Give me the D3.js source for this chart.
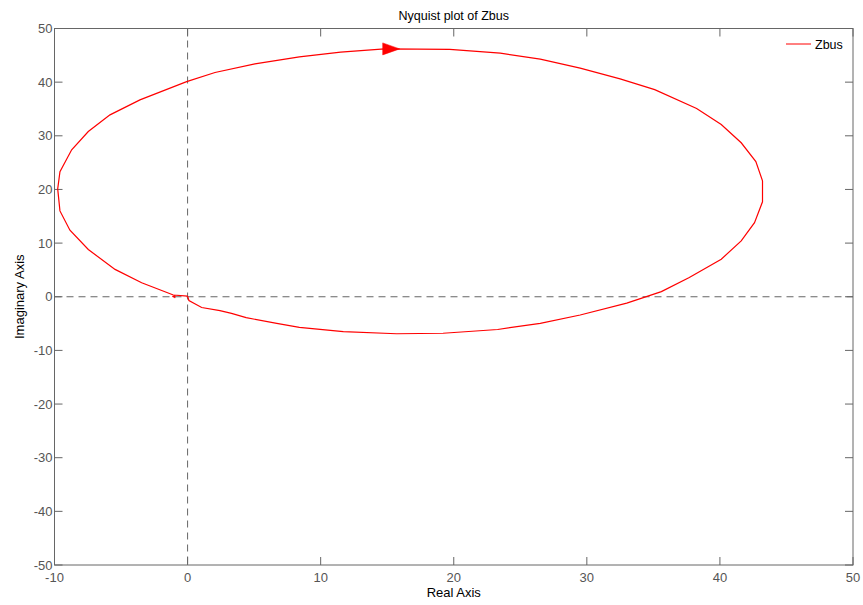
<!DOCTYPE html>
<html>
<head>
<meta charset="utf-8">
<script src="https://cdn.jsdelivr.net/npm/d3@7"></script>
<style>
  html, body { margin: 0; padding: 0; background: #fff; }
  svg { display: block; font-family: "Liberation Sans", Arial, sans-serif; }
</style>
</head>
<body>
<svg id="chart" width="863" height="605"></svg>
<script>
// Nyquist locus of Zbus: real parts and imaginary parts (ohms), traced in frequency order
const reParts = [0, -1.07, -3.45, -5.45, -7.46, -8.84, -9.59, -9.76, -9.59, -8.71, -7.46, -5.83, -3.58,
  -0.07, 2.06, 5.06, 8.4, 11.5, 14.8, 19.7, 23.5, 26.5, 29.5, 32.5, 35.1, 38.25, 40.1, 41.6, 42.7,
  43.2, 43.2, 42.6, 41.6, 40.1, 37.7, 35.6, 33.0, 29.5, 26.5, 23.3, 19.2, 15.7, 11.7, 8.4, 6.7,
  4.4, 3.3, 2.43, 1.06, 0.1, 0];
const imParts = [0.1, 0.33, 2.6, 5.1, 8.8, 12.4, 16.0, 20.1, 23.3, 27.4, 30.8, 33.9, 36.7,
  40.1, 41.8, 43.4, 44.7, 45.6, 46.2, 46.1, 45.4, 44.3, 42.6, 40.6, 38.6, 35.1, 32.1, 28.7, 25.2,
  21.6, 17.7, 13.8, 10.4, 7.0, 3.6, 0.95, -1.2, -3.4, -4.95, -6.1, -6.8, -6.9, -6.5, -5.7, -4.95,
  -3.9, -3.1, -2.6, -2.0, -0.7, 0.1];
const seriesName = "Zbus";
const xTicks = [-10, 0, 10, 20, 30, 40, 50];
const yTicks = [-50, -40, -30, -20, -10, 0, 10, 20, 30, 40, 50];
// Direction arrows (position in data units)
const arrowAt = { re: 15.3, im: 46.2 };
const smallArrowAt = { re: -1.05, im: 0.05 };

const svg = d3.select("#chart");
const L = 54.5, R = 853, T = 28.5, B = 565;
const x = d3.scaleLinear().domain([-10, 50]).range([L, R]);
const y = d3.scaleLinear().domain([-50, 50]).range([B, T]);
const axisGray = "#666";
const labelGray = "#555";

// Axes box
svg.append("rect").attr("x", L).attr("y", T).attr("width", R - L).attr("height", B - T)
  .attr("fill", "none").attr("stroke", axisGray).attr("stroke-width", 1);

// Inward ticks on all four sides
const tickLen = 8;
const tickG = svg.append("g").attr("stroke", axisGray).attr("stroke-width", 1);
xTicks.forEach(v => {
  tickG.append("line").attr("x1", x(v)).attr("x2", x(v)).attr("y1", B).attr("y2", B - tickLen);
  tickG.append("line").attr("x1", x(v)).attr("x2", x(v)).attr("y1", T).attr("y2", T + tickLen);
});
yTicks.forEach(v => {
  tickG.append("line").attr("x1", L).attr("x2", L + tickLen).attr("y1", y(v)).attr("y2", y(v));
  tickG.append("line").attr("x1", R).attr("x2", R - tickLen).attr("y1", y(v)).attr("y2", y(v));
});

// Tick labels
svg.append("g").selectAll("text").data(xTicks).join("text")
  .attr("x", d => x(d)).attr("y", B + 17)
  .attr("text-anchor", "middle").attr("font-size", 13).attr("fill", labelGray)
  .text(d => d);
svg.append("g").selectAll("text").data(yTicks).join("text")
  .attr("x", L - 2).attr("y", d => y(d) + 4.5)
  .attr("text-anchor", "end").attr("font-size", 13).attr("fill", labelGray)
  .text(d => d);

// Dashed axes through the origin
svg.append("line").attr("x1", x(0)).attr("x2", x(0)).attr("y1", T).attr("y2", B)
  .attr("stroke", axisGray).attr("stroke-dasharray", "7,5").attr("stroke-width", 1);
svg.append("line").attr("x1", L).attr("x2", R).attr("y1", y(0)).attr("y2", y(0))
  .attr("stroke", axisGray).attr("stroke-dasharray", "7,5").attr("stroke-width", 1);

// Nyquist curve
const pts = reParts.map((r, i) => [r, imParts[i]]);
const line = d3.line().x(d => x(d[0])).y(d => y(d[1]));
svg.append("path").datum(pts).attr("d", line)
  .attr("fill", "none").attr("stroke", "#ff0000").attr("stroke-width", 1.2);

// Arrowheads showing direction of increasing frequency
function arrow(cx, cy, len, half, dir) {
  const tip = cx + dir * len / 2, base = cx - dir * len / 2;
  svg.append("path")
    .attr("d", `M${tip},${cy} L${base},${cy - half} L${base},${cy + half} Z`)
    .attr("fill", "#ff0000").attr("stroke", "#ff0000").attr("stroke-width", 0.5);
}
arrow(x(arrowAt.re), y(arrowAt.im), 17, 6, 1);
arrow(x(smallArrowAt.re), y(smallArrowAt.im), 3, 1.5, -1);

// Legend
svg.append("line").attr("x1", 786).attr("x2", 811).attr("y1", 44).attr("y2", 44)
  .attr("stroke", "#ff0000").attr("stroke-width", 1);
svg.append("text").attr("x", 815).attr("y", 48.5).attr("font-size", 12.5).attr("fill", "#000")
  .text(seriesName);

// Titles
svg.append("text").attr("x", (L + R) / 2).attr("y", 20).attr("text-anchor", "middle")
  .attr("font-size", 12.5).attr("fill", "#000").text("Nyquist plot of Zbus");
svg.append("text").attr("x", (L + R) / 2).attr("y", 597).attr("text-anchor", "middle")
  .attr("font-size", 13).attr("fill", "#000").text("Real Axis");
svg.append("text").attr("transform", `translate(24,${(T + B) / 2}) rotate(-90)`)
  .attr("text-anchor", "middle").attr("font-size", 13).attr("fill", "#000").text("Imaginary Axis");
</script>
</body>
</html>
